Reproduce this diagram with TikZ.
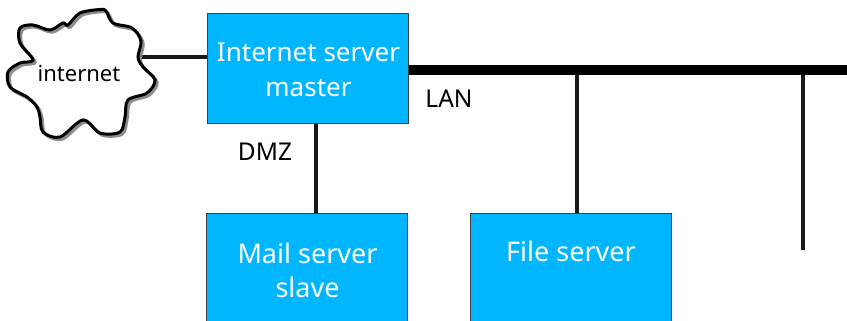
\documentclass[tikz,border=0pt]{standalone}
\usepackage{fontspec}
\setmainfont{Noto Sans}
\definecolor{boxblue}{RGB}{0,183,255}
\tikzset{
  server/.style={draw=black!75!white,line width=0.9pt,fill=boxblue,minimum width=201pt,inner sep=0pt,anchor=north west},
  servertext/.style={font=\fontsize{27}{34.5}\selectfont,text=white,align=center,inner sep=0pt},
  wire/.style={draw=black!90,line width=3.2pt},
  bus/.style={draw=black,line width=10pt},
  lab/.style={font=\fontsize{24.5}{28}\selectfont,inner sep=0pt,text=black}
}
\begin{document}
\begin{tikzpicture}[x=1pt,y=-1pt]
\useasboundingbox (0,0) rectangle (847,321);
\clip (0,0) rectangle (847,321);
% connector anchors
\coordinate (cloudedge) at (138,57);
\coordinate (busend) at (847,69.8);
\coordinate (tapA) at (577,69.8);
\coordinate (tapB) at (803,69.8);
\coordinate (tapBend) at (803,250);
\coordinate (dmzTop) at (316,123);
\coordinate (dmzBot) at (316,213.5);
% wires
\draw[wire] (cloudedge) -- (208,57);
\draw[wire] (dmzTop) -- (dmzBot);
\draw[wire] (tapA) -- (577,213.5);
\draw[wire] (tapB) -- (tapBend);
% boxes
\node[server,minimum height=110pt] (master) at (207,13.5) {};
\node[servertext,font=\fontsize{26}{34.5}\selectfont] (mastertext) at (308.5,70) {Internet server\\master};
\node[server,minimum height=140pt] (mail) at (206,213) {};
\node[servertext] (mailtext) at (307.5,270.5) {Mail server\\slave};
\node[server,minimum height=140pt] (file) at (470,213) {};
\node[servertext] (filetext) at (571,251) {File server};
\draw[bus] (master.east |- busend) -- (busend);
% cloud
\def\cloudpath{plot[smooth cycle,tension=0.55] coordinates {
 (138,57) (141,41) (132,28) (113,23) (106,11) (100,9.5) (80,13) (68,25) (63,23) (50,30) (33,25) (20,28) (20,43) (33,60) (20,63) (8,72) (10,87) (27,97) (37,107) (40,117) (43,132) (60,137) (83,120) (100,133) (120,132) (125,117) (128,100) (147,93) (155,80) (143,67)}}
\fill[white] \cloudpath;
\draw[black!45,line width=3pt,xshift=2.2pt,yshift=-2.2pt] \cloudpath;
\draw[black,line width=3pt] \cloudpath;
\node[inner sep=0pt,font=\fontsize{22}{26}\selectfont,text=black] (inet) at (79,74) {internet};
\node[lab] (lan) at (449,99) {LAN};
\node[lab] (dmz) at (265,152) {DMZ};
\end{tikzpicture}
\end{document}
